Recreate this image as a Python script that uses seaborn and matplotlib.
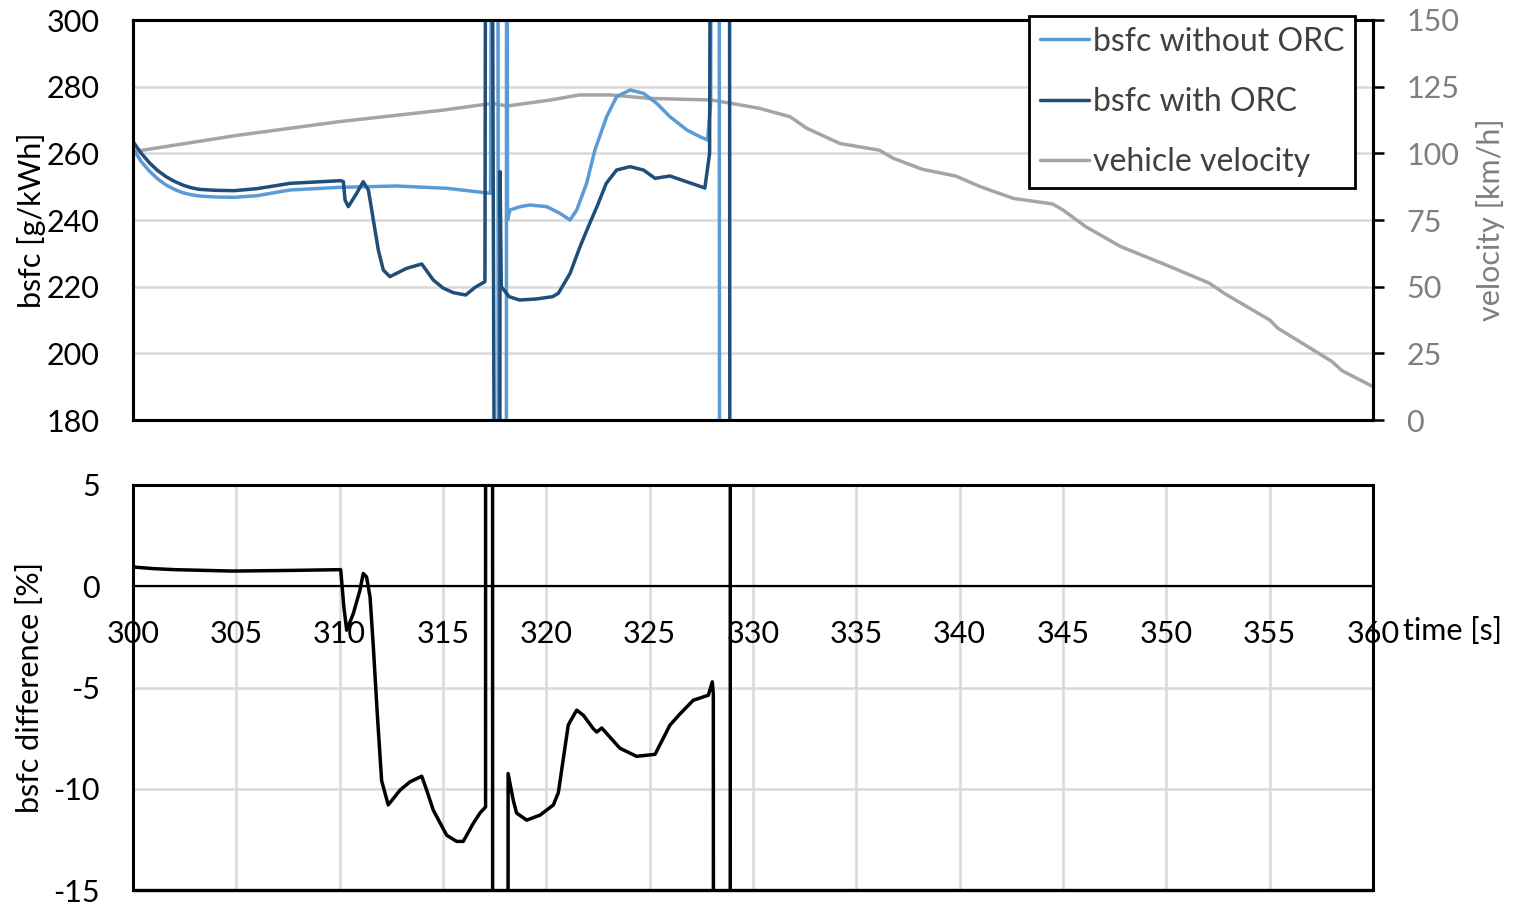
import matplotlib
matplotlib.use("Agg")
import matplotlib.pyplot as plt
import numpy as np
import pandas as pd
import seaborn as sns

# ---------------- data ----------------
time_without = [300.0, 300.4, 300.82, 301.2, 301.6, 302.0, 302.4, 302.8, 303.2, 304.0,
                304.9, 306.0, 307.6, 310.0, 312.76, 315.2, 317.3, 317.42, 317.65, 317.7,
                318.05, 318.08, 318.12, 318.24, 318.73, 319.2, 320.02, 320.66, 321.15, 321.47,
                321.95, 322.35, 322.92, 323.4, 324.05, 324.7, 325.34, 325.98, 326.8, 327.43,
                327.8, 327.95, 328.05, 328.35, 328.42, 345.0, 360.0]
bsfc_without = [261.5, 257.5, 254.5, 252.3, 250.5, 249.2, 248.2, 247.6, 247.2, 246.9,
                246.8, 247.3, 249.0, 249.8, 250.2, 249.5, 248.0, 500.0, 500.0, -300.0,
                -300.0, 500.0, 240.0, 243.0, 244.0, 244.5, 244.0, 242.0, 240.0, 243.0,
                251.0, 261.0, 271.0, 277.0, 279.0, 278.0, 275.0, 271.0, 267.0, 265.0,
                264.0, 275.0, 500.0, 500.0, -300.0, -300.0, -300.0]

time_with = [300.0, 300.4, 300.82, 301.2, 301.6, 302.0, 302.4, 302.8, 303.2, 304.0,
             304.9, 306.0, 307.6, 310.05, 310.18, 310.26, 310.42, 310.82, 311.14, 311.39,
             311.63, 311.87, 312.11, 312.43, 313.24, 313.97, 314.53, 315.0, 315.5, 316.1,
             316.55, 317.03, 317.1, 317.3, 317.72, 317.76, 317.82, 318.2, 318.7, 319.5,
             320.3, 320.58, 321.15, 321.63, 322.1, 322.45, 322.9, 323.4, 324.05, 324.7,
             325.26, 325.98, 327.67, 327.9, 328.0, 328.85, 328.92, 345.0, 360.0]
bsfc_with = [263.5, 260.0, 257.0, 254.8, 253.0, 251.6, 250.5, 249.7, 249.2, 248.9,
             248.8, 249.4, 251.0, 251.8, 251.5, 246.0, 244.0, 248.0, 251.5, 249.0,
             240.0, 231.0, 225.0, 223.0, 225.5, 226.8, 222.0, 219.6, 218.2, 217.5,
             219.8, 221.5, 500.0, 500.0, -300.0, 254.5, 220.0, 217.0, 216.0, 216.3,
             217.0, 218.0, 224.0, 232.0, 239.0, 244.0, 251.0, 255.0, 256.0, 255.0,
             252.5, 253.2, 249.6, 260.0, 500.0, 500.0, -300.0, -300.0, -300.0]

time_velocity = [300.0, 305.0, 310.0, 315.0, 317.4, 318.1, 320.2, 321.6, 323.1, 325.0,
                 328.0, 330.3, 331.8, 332.6, 334.2, 336.1, 336.8, 338.2, 339.8, 341.0,
                 342.6, 344.5, 345.0, 346.1, 347.8, 350.0, 352.1, 352.8, 355.0, 355.4,
                 358.0, 358.5, 360.0]
velocity = [100.6, 106.7, 111.9, 116.2, 118.75, 117.75, 120.0, 121.9, 121.9, 120.6,
            120.0, 116.9, 113.7, 109.4, 103.7, 101.2, 98.1, 94.0, 91.5, 87.5,
            83.1, 81.0, 78.75, 72.5, 65.0, 58.1, 51.25, 47.5, 37.5, 34.4,
            22.0, 18.5, 12.5]

time_diff = [300.0, 301.0, 302.0, 304.8, 307.5, 310.05, 310.2, 310.34, 310.66, 310.98,
             311.14, 311.3, 311.47, 311.63, 311.82, 312.03, 312.35, 312.92, 313.4, 313.97,
             314.21, 314.53, 315.18, 315.66, 315.98, 316.47, 316.79, 317.06, 317.08, 317.38,
             317.42, 318.06, 318.1, 318.15, 318.4, 318.56, 319.05, 319.7, 320.34, 320.58,
             321.06, 321.14, 321.47, 321.79, 322.27, 322.44, 322.68, 323.56, 324.37, 325.26,
             325.98, 326.47, 327.11, 327.84, 328.03, 328.08, 328.16, 328.88, 328.92, 345.0, 360.0]
bsfc_diff = [0.95, 0.87, 0.82, 0.75, 0.78, 0.82, -1.0, -2.17, -1.35, -0.2,
             0.63, 0.46, -0.53, -3.0, -6.3, -9.6, -10.8, -10.07, -9.66, -9.38,
             -10.07, -11.06, -12.3, -12.6, -12.6, -11.7, -11.2, -10.9, 200.0, 200.0,
             -200.0, -200.0, -200.0, -9.25, -10.57, -11.2, -11.55, -11.3, -10.8, -10.2,
             -6.86, -6.7, -6.12, -6.37, -7.03, -7.2, -7.0, -8.0, -8.4, -8.3,
             -6.86, -6.3, -5.63, -5.38, -4.72, -5.3, -200.0, -200.0, 200.0, 200.0, 200.0]

bsfc_ticks = [180, 200, 220, 240, 260, 280, 300]
velocity_ticks = [0, 25, 50, 75, 100, 125, 150]
diff_ticks = [-15, -10, -5, 0, 5]
time_ticks = [300, 305, 310, 315, 320, 325, 330, 335, 340, 345, 350, 355, 360]

# ---------------- style ----------------
sns.set_theme(style="white")
plt.rcParams["font.family"] = ["Lato", "DejaVu Sans"]
plt.rcParams["axes.unicode_minus"] = False
FS = 22
C_LIGHT = "#5B9BD5"
C_DARK = "#1F4E79"
C_GRAY = "#A5A5A5"
C_GRID = "#D9D9D9"
LW = 2.5

df_without = pd.DataFrame({"time": time_without, "bsfc": bsfc_without})
df_with = pd.DataFrame({"time": time_with, "bsfc": bsfc_with})
df_vel = pd.DataFrame({"time": time_velocity, "velocity": velocity})
df_diff = pd.DataFrame({"time": time_diff, "diff": bsfc_diff})

W, H = 1517, 905
fig = plt.figure(figsize=(W / 100, H / 100), dpi=100)
L, R = 133 / W, 1373 / W
ax1 = fig.add_axes([L, 1 - 420 / H, R - L, 400 / H])
ax1r = ax1.twinx()
ax2 = fig.add_axes([L, 1 - 890 / H, R - L, 405 / H])

# put primary axes above twin so blue lines are above the grey one
ax1.set_zorder(ax1r.get_zorder() + 1)
ax1.patch.set_visible(False)

# ---------------- top panel ----------------
sns.lineplot(data=df_vel, x="time", y="velocity", ax=ax1r, color=C_GRAY, lw=LW,
             estimator=None, sort=False, legend=False)
sns.lineplot(data=df_without, x="time", y="bsfc", ax=ax1, color=C_LIGHT, lw=LW,
             estimator=None, sort=False, legend=False)
sns.lineplot(data=df_with, x="time", y="bsfc", ax=ax1, color=C_DARK, lw=LW,
             estimator=None, sort=False, legend=False)

ax1.set_xlim(300, 360)
ax1.set_ylim(180, 300)
ax1r.set_ylim(0, 150)
ax1.set_xticks(time_ticks)
ax1.set_yticks(bsfc_ticks)
ax1r.set_yticks(velocity_ticks)
ax1.tick_params(axis="x", labelbottom=False, length=0)
ax1.tick_params(axis="y", length=0, pad=24, labelsize=FS, labelcolor="black")
ax1r.tick_params(axis="y", direction="out", length=8, width=1.8, color="black",
                 pad=16, labelsize=FS, labelcolor="#7F7F7F", right=True)

ax1r.grid(True, color=C_GRID, lw=1.8)
ax1r.xaxis.grid(True, color=C_GRID, lw=1.8)
ax1.grid(False)
ax1r.set_axisbelow(True)

for a in (ax1, ax1r):
    for s in a.spines.values():
        s.set_color("black")
        s.set_linewidth(2.2)
        s.set_visible(True)

ax1.set_xlabel("")
ax1.set_ylabel("bsfc [g/kWh]", fontsize=FS, color="black", va="center")
ax1.yaxis.set_label_coords(-0.082, 0.5)
ax1r.set_ylabel("velocity [km/h]", fontsize=FS, color="#7F7F7F", va="center", rotation=90)
ax1r.yaxis.set_label_coords(1.095, 0.5)

handles = [plt.Line2D([], [], color=C_LIGHT, lw=LW),
           plt.Line2D([], [], color=C_DARK, lw=LW),
           plt.Line2D([], [], color=C_GRAY, lw=LW)]
labels = ["bsfc without ORC", "bsfc with ORC", "vehicle velocity"]
leg = ax1.legend(handles, labels, loc="upper left", bbox_to_anchor=(1029 / W, 1 - 16 / H),
                 bbox_transform=fig.transFigure, borderaxespad=0, fontsize=FS + 1,
                 frameon=True, fancybox=False, framealpha=1, edgecolor="black",
                 handlelength=1.55, handletextpad=0.12, labelspacing=0.95, borderpad=0.33)
leg.get_frame().set_linewidth(2.0)
for t in leg.get_texts():
    t.set_color("#404040")

# ---------------- bottom panel ----------------
sns.lineplot(data=df_diff, x="time", y="diff", ax=ax2, color="black", lw=LW,
             estimator=None, sort=False, legend=False)
ax2.set_xlim(300, 360)
ax2.set_ylim(-15, 5)
ax2.set_xticks(time_ticks)
ax2.set_yticks(diff_ticks)
ax2.grid(True, color=C_GRID, lw=1.8)
ax2.set_axisbelow(True)
for s in ax2.spines.values():
    s.set_color("black")
    s.set_linewidth(2.2)
ax2.spines["bottom"].set_position(("data", 0))
ax2.spines["bottom"].set_linewidth(1.6)
ax2.axhline(-15, color="black", lw=2.4, clip_on=False, zorder=5)
ax2.tick_params(axis="x", length=0, pad=24, labelsize=FS, labelcolor="black")
ax2.tick_params(axis="y", length=0, pad=24, labelsize=FS, labelcolor="black")
ax2.set_ylabel("bsfc difference [%]", fontsize=FS, color="black", va="center")
ax2.yaxis.set_label_coords(-0.083, 0.5)
ax2.set_xlabel("time [s]", fontsize=FS, color="black", ha="left", va="center")
ax2.xaxis.set_label_coords((1403 - 133) / 1240, (890 - 631) / 405)

fig.savefig("out.png", dpi=100)
